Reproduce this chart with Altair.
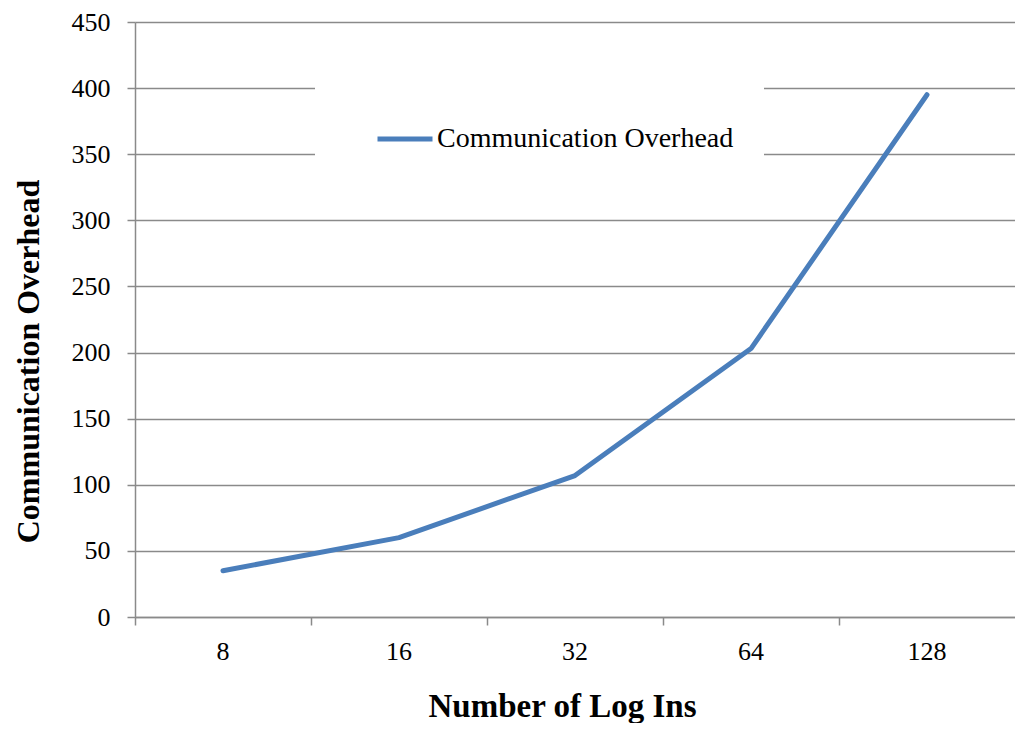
import altair as alt
import pandas as pd

log_ins = ["8", "16", "32", "64", "128"]
overhead = [35, 60, 107, 203, 395]
series_name = ["Communication Overhead"] * 5
y_ticks = [0, 50, 100, 150, 200, 250, 300, 350, 400, 450]

df = pd.DataFrame({"logins": log_ins, "overhead": overhead, "series": series_name})

FONT = "Liberation Serif"
W = 880
H = 595
GRID = "#8a8a8a"

chart = alt.Chart(df).mark_line(
    strokeWidth=5, strokeCap="round", strokeJoin="round"
).encode(
    x=alt.X(
        "logins:O",
        sort=log_ins,
        scale=alt.Scale(type="band", paddingInner=0, paddingOuter=0),
        axis=alt.Axis(
            title="Number of Log Ins",
            bandPosition=0,
            labelAngle=0,
            tickSize=8,
            labelPadding=13,
            labelBaseline="top",
            grid=False,
            titleX=427,
            titleY=99,
            titleAlign="center",
            titleBaseline="alphabetic",
        ),
    ),
    y=alt.Y(
        "overhead:Q",
        scale=alt.Scale(domain=[0, 450], nice=False),
        axis=alt.Axis(
            title="Communication Overhead",
            values=y_ticks,
            tickSize=8,
            labelPadding=17,
            grid=True,
            titleAngle=270,
            titleX=-97,
            titleY=339,
            titleAlign="center",
            titleBaseline="alphabetic",
            titleFontSize=32,
        ),
    ),
    color=alt.Color(
        "series:N",
        scale=alt.Scale(range=["#4A7EBB"]),
        legend=alt.Legend(
            title=None,
            orient="none",
            legendX=180,
            legendY=57,
            fillColor="white",
            padding=30,
            symbolType="stroke",
            symbolSize=3025,
            symbolStrokeWidth=5,
            symbolOffset=30,
            labelOffset=2,
            labelFont=FONT,
            labelFontSize=28,
            labelColor="black",
            labelLimit=0,
        ),
    ),
).properties(
    width=W,
    height=H,
    autosize=alt.AutoSizeParams(type="none"),
    padding={"left": 127, "top": 14, "right": 0, "bottom": 106},
).configure_view(
    stroke=None
).configure_axis(
    labelFont=FONT,
    labelFontSize=26,
    labelColor="black",
    titleFont=FONT,
    titleFontSize=33,
    titleFontWeight="bold",
    titleColor="black",
    domainColor=GRID,
    domainWidth=1.5,
    tickColor=GRID,
    tickWidth=1.5,
    gridColor=GRID,
    gridWidth=1.5,
)

chart.save("out.html", embed_options={"renderer": "svg", "actions": False})
